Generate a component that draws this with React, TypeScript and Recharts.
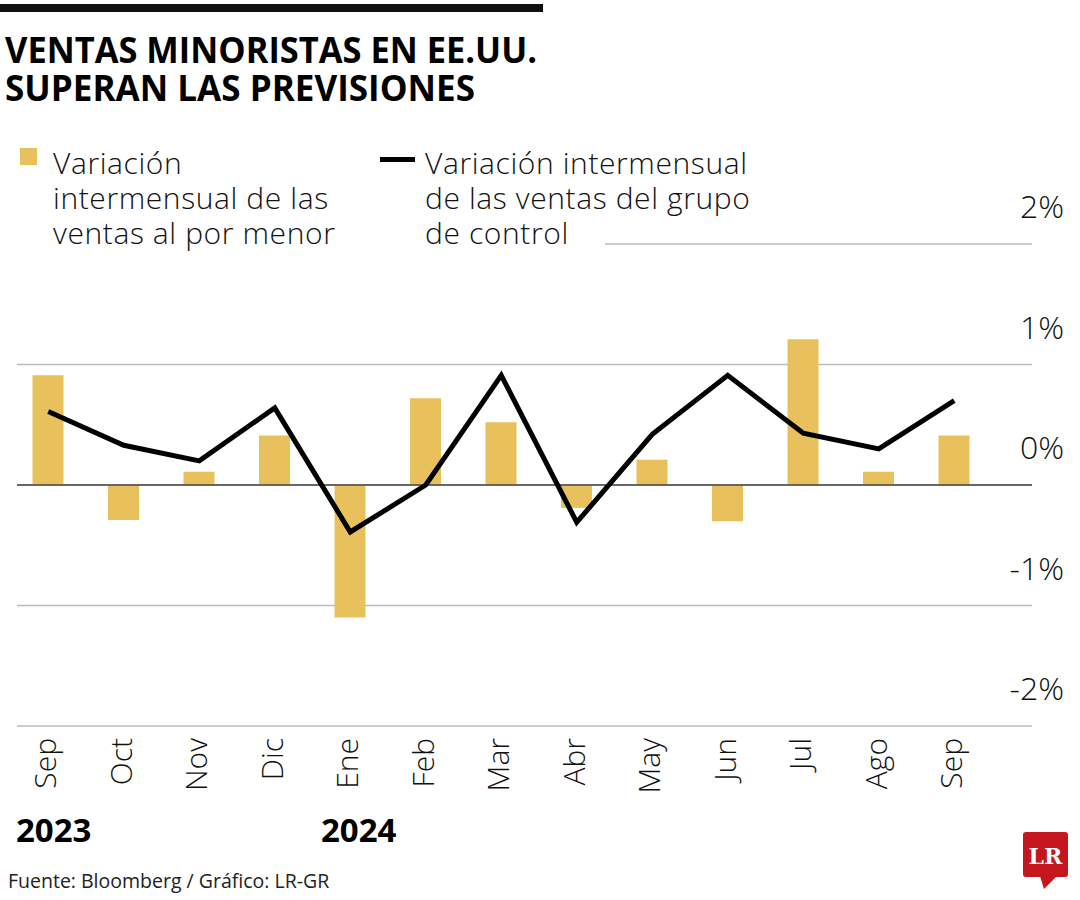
import { Bar, CartesianGrid, ComposedChart, Line, ReferenceLine, XAxis, YAxis } from 'recharts';

const PERIODS = ['2023-09', '2023-10', '2023-11', '2023-12', '2024-01', '2024-02', '2024-03', '2024-04', '2024-05', '2024-06', '2024-07', '2024-08', '2024-09'];
const MONTHS = ['Sep', 'Oct', 'Nov', 'Dic', 'Ene', 'Feb', 'Mar', 'Abr', 'May', 'Jun', 'Jul', 'Ago', 'Sep'];
// variación intermensual de las ventas al por menor (%)
const RETAIL = [0.91, -0.29, 0.11, 0.41, -1.1, 0.72, 0.52, -0.19, 0.21, -0.3, 1.21, 0.11, 0.41];
// variación intermensual del grupo de control (%)
const CONTROL = [0.61, 0.33, 0.2, 0.64, -0.39, 0.0, 0.91, -0.31, 0.42, 0.91, 0.43, 0.3, 0.7];
const Y_TICKS = [-2, -1, 0, 1, 2];

const GOLD = '#E9C15C';
const LIGHT = "'Open Sans', 'Noto Sans', sans-serif";

const data = PERIODS.map((p, i) => ({ period: p, retail: RETAIL[i], control: CONTROL[i] }));
const monthOf = Object.fromEntries(PERIODS.map((p, i) => [p, MONTHS[i]]));

function MonthTick(props: any) {
  const { x, y, payload } = props;
  return (
    <text
      transform={`translate(${x + 8},${y + 12}) rotate(-90)`}
      textAnchor="end"
      fontFamily={LIGHT}
      fontWeight={300}
      fontSize={30}
      fill="#111"
    >
      {monthOf[payload.value]}
    </text>
  );
}

function PctTick(props: any) {
  const { y, payload } = props;
  return (
    <text x={1064} y={y - 26} textAnchor="end" fontFamily={LIGHT} fontWeight={300} fontSize={32} fill="#111">
      {`${payload.value}%`}
    </text>
  );
}

function GridLine(p: any) {
  // la línea del 2% queda recortada por la leyenda
  const x1 = p.y1 < 260 ? 605 : p.x1;
  return <line key={`h-${p.index}`} x1={x1} y1={p.y1} x2={p.x2} y2={p.y2} stroke="#bcbcbc" strokeWidth={1.3} />;
}

export default function App() {
  return (
    <div style={{ position: 'absolute', left: 0, top: 0, width: 1080, height: 900, background: '#fff', overflow: 'hidden' }}>
      <ComposedChart
        width={1080}
        height={900}
        data={data}
        margin={{ top: 244, right: 0, bottom: 74, left: 17 }}
      >
        <CartesianGrid vertical={false} horizontal={GridLine} />
        <XAxis
          dataKey="period"
          height={100}
          interval={0}
          axisLine={false}
          tickLine={false}
          tickSize={0}
          tickMargin={0}
          padding={{ left: -6.5, right: 40 }}
          tick={<MonthTick />}
        />
        <YAxis
          orientation="right"
          width={48}
          domain={[-2, 2]}
          ticks={Y_TICKS}
          axisLine={false}
          tickLine={false}
          tick={<PctTick />}
        />
        <ReferenceLine y={0} stroke="#444" strokeWidth={1.5} />
        <Bar dataKey="retail" fill={GOLD} barSize={31} isAnimationActive={false} />
        <Line
          type="linear"
          dataKey="control"
          stroke="#000"
          strokeWidth={5}
          strokeLinejoin="miter"
          dot={false}
          activeDot={false}
          isAnimationActive={false}
        />
      </ComposedChart>

      <svg width={1080} height={900} style={{ position: 'absolute', left: 0, top: 0, pointerEvents: 'none' }}>
        <rect x={0} y={4} width={543} height={8} fill="#111" />
        <text x={5} y={63} fontFamily="'Open Sans', sans-serif" fontWeight={700} fontSize={35} fill="#000" textLength={532} lengthAdjust="spacingAndGlyphs">
          VENTAS MINORISTAS EN EE.UU.
        </text>
        <text x={5} y={101} fontFamily="'Open Sans', sans-serif" fontWeight={700} fontSize={35} fill="#000" textLength={470} lengthAdjust="spacingAndGlyphs">
          SUPERAN LAS PREVISIONES
        </text>

        <rect x={20} y={148} width={17} height={17} fill={GOLD} />
        <g fontFamily={LIGHT} fontWeight={300} fontSize={30} letterSpacing={0.6} fill="#111">
          <text x={53} y={174}>Variación</text>
          <text x={53} y={209}>intermensual de las</text>
          <text x={53} y={244}>ventas al por menor</text>
          <text x={425} y={174}>Variación intermensual</text>
          <text x={425} y={209}>de las ventas del grupo</text>
          <text x={425} y={244}>de control</text>
        </g>
        <rect x={380} y={157} width={35} height={5} fill="#000" />

        <g fontFamily="'Open Sans', sans-serif" fontWeight={700} fontSize={33} fill="#000">
          <text x={16} y={842}>2023</text>
          <text x={321} y={842}>2024</text>
        </g>
        <text x={8} y={888} fontFamily="'Open Sans', sans-serif" fontSize={19.5} fill="#222">
          Fuente: Bloomberg / Gráfico: LR-GR
        </text>

        <rect x={1023} y={832} width={45} height={45} rx={3} fill="#C4161C" />
        <polygon points="1040,876 1057,876 1044,889" fill="#C4161C" />
        <text x={1045.5} y={864} textAnchor="middle" fontFamily="'DejaVu Serif', 'Liberation Serif', serif" fontWeight={700} fontSize={22} fill="#fff">
          LR
        </text>
      </svg>
    </div>
  );
}
